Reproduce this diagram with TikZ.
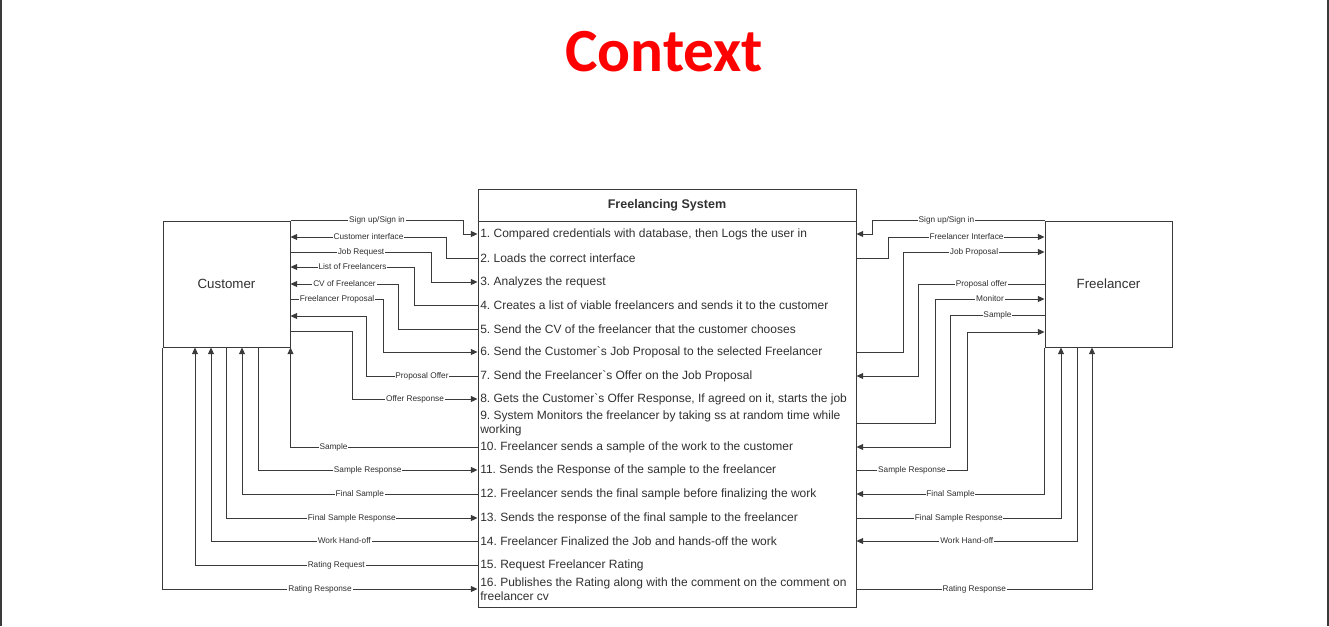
\documentclass[tikz,border=0pt]{standalone}
\usepackage{fontspec}
\setmainfont{Liberation Sans}
\newfontfamily\titlefont{Carlito}
\usetikzlibrary{arrows.meta, positioning, calc}
\definecolor{ctxred}{HTML}{FF0000}
\definecolor{ctxline}{HTML}{3A3A3A}
\definecolor{ctxtext}{HTML}{303030}
\tikzset{
  actor/.style  = {draw=ctxline, line width=0.75pt, minimum width=95.25pt,
                   minimum height=94.5pt, inner sep=0pt, text=ctxtext,
                   font=\fontsize{10}{12}\selectfont},
  sysbox/.style = {draw=ctxline, line width=0.75pt, minimum width=283.5pt,
                   minimum height=313.5pt, inner sep=0pt},
  row/.style    = {anchor=west, align=left, inner sep=1.5pt, text=ctxtext,
                   font=\fontsize{9}{10.5}\selectfont},
  lab/.style    = {fill=white, inner sep=0.6pt, text=ctxtext,
                   font=\fontsize{6.2}{7}\selectfont},
  flow/.style   = {-{Triangle[length=5pt, width=4.5pt]}, line width=0.75pt, draw=ctxline},
  wire/.style   = {line width=0.75pt, draw=ctxline},
}
\frenchspacing

\begin{document}
\begin{tikzpicture}[x=0.75pt, y=-0.75pt]
    \useasboundingbox (0,0) rectangle (1329,626);
    \draw[line width=1.5pt, ctxline] (1,0) -- (1,626);
    \draw[line width=1.5pt, ctxline] (1328,0) -- (1328,626);

    \node[font=\titlefont\bfseries\fontsize{46}{54}\selectfont, text=ctxred] (title) at (664,52) {Context};

    \node[sysbox]                   (sys)        at (667,398) {};
    \node[actor]                    (customer)   at (226.5,284) {Customer};
    \node[actor]                    (freelancer) at (1108.5,284) {Freelancer};
    \node[font=\bfseries\fontsize{9.4}{11}\selectfont, text=ctxtext] (head) at (667,205) {Freelancing System};
    \draw[wire] (sys.west |- 0,221) -- (sys.east |- 0,221);

    \node[row] (r1)  at (478,234) {1. Compared credentials with database, then Logs the user in};
    \node[row] (r2)  at (478,258) {2. Loads the correct interface};
    \node[row] (r3)  at (478,282) {3. Analyzes the request};
    \node[row] (r4)  at (478,305) {4. Creates a list of viable freelancers and sends it to the customer};
    \node[row] (r5)  at (478,329) {5. Send the CV of the freelancer that the customer chooses};
    \node[row] (r6)  at (478,352) {6. Send the Customer\textasciigrave s Job Proposal to the selected Freelancer};
    \node[row] (r7)  at (478,376) {7. Send the Freelancer\textasciigrave s Offer on the Job Proposal};
    \node[row] (r8)  at (478,399) {8. Gets the Customer\textasciigrave s Offer Response, If agreed on it, starts the job};
    \node[row] (r9)  at (478,423) {9. System Monitors the freelancer by taking ss at random time while\\working};
    \node[row] (r10) at (478,447) {10. Freelancer sends a sample of the work to the customer};
    \node[row] (r11) at (478,470) {11. Sends the Response of the sample to the freelancer};
    \node[row] (r12) at (478,494) {12. Freelancer sends the final sample before finalizing the work};
    \node[row] (r13) at (478,518) {13. Sends the response of the final sample to the freelancer};
    \node[row] (r14) at (478,541) {14. Freelancer Finalized the Job and hands-off the work};
    \node[row] (r15) at (478,565) {15. Request Freelancer Rating};
    \node[row] (r16) at (478,589) {16. Publishes the Rating along with the comment on the comment on\\freelancer cv};

    % customer side
    \draw[flow] (customer.north east) -- node[lab]{Sign up/Sign in} ++(173,0) |- (sys.west |- r1);
    \draw[flow] (sys.west |- r2) -- ++(-31,0) |- node[lab, pos=.75]{Customer interface} (customer.east |- 0,237);
    \draw[flow] (customer.east |- 0,252) -- node[lab]{Job Request} ++(141,0) |- (sys.west |- r3);
    \draw[flow] (sys.west |- r4) -- ++(-63,0) |- node[lab, pos=.75]{List of Freelancers} (customer.east |- 0,267);
    \draw[flow] (sys.west |- r5) -- ++(-79,0) |- node[lab, pos=.75]{CV of Freelancer} (customer.east |- 0,284);
    \draw[flow] (customer.east |- 0,299) -- node[lab]{Freelancer Proposal} ++(93,0) |- (sys.west |- r6);
    \draw[flow] (sys.west |- r7) -- node[lab]{Proposal Offer} ++(-111,0) |- (customer.east |- 0,316);
    \draw[flow] (customer.east |- 0,331) -- ++(62,0) |- node[lab, pos=.75]{Offer Response} (sys.west |- r8);
    \draw[flow] (sys.west |- r10) -| node[lab, pos=.385]{Sample} (customer.south east);
    \draw[flow] (customer.south -| 258,0) |- node[lab, pos=.75]{Sample Response} (sys.west |- r11);
    \draw[flow] (sys.west |- r12) -| node[lab, pos=.25]{Final Sample} (customer.south -| 242,0);
    \draw[flow] (customer.south -| 226,0) |- node[lab, pos=.75]{Final Sample Response} (sys.west |- r13);
    \draw[flow] (sys.west |- r14) -| node[lab, pos=.25]{Work Hand-off} (customer.south -| 211,0);
    \draw[flow] (sys.west |- r15) -| node[lab, pos=.25]{Rating Request} (customer.south -| 195,0);
    \draw[flow] (customer.south west) |- node[lab, pos=.75]{Rating Response} (sys.west |- r16);

    % freelancer side
    \draw[flow] (freelancer.north west) -- node[lab, pos=.57]{Sign up/Sign in} ++(-172,0) |- (sys.east |- r1);
    \draw[flow] (sys.east |- r2) -- ++(32,0) |- node[lab, pos=.75]{Freelancer Interface} (freelancer.west |- 0,237);
    \draw[flow] (sys.east |- r6) -- ++(47,0) |- node[lab, pos=.75]{Job Proposal} (freelancer.west |- 0,252);
    \draw[flow] (freelancer.west |- 0,284) -- node[lab]{Proposal offer} ++(-126,0) |- (sys.east |- r7);
    \draw[flow] (sys.east |- r9) -- ++(79,0) |- node[lab, pos=.75]{Monitor} (freelancer.west |- 0,299);
    \draw[flow] (freelancer.west |- 0,315) -- node[lab]{Sample} ++(-94,0) |- (sys.east |- r10);
    \draw[flow] (sys.east |- r11) -- node[lab]{Sample Response} ++(111,0) |- (freelancer.west |- 0,332);
    \draw[flow] (freelancer.south west) |- node[lab, pos=.75]{Final Sample} (sys.east |- r12);
    \draw[flow] (sys.east |- r13) -| node[lab, pos=.25]{Final Sample Response} (freelancer.south -| 1061,0);
    \draw[flow] (freelancer.south -| 1077,0) |- node[lab, pos=.75]{Work Hand-off} (sys.east |- r14);
    \draw[flow] (sys.east |- r16) -| node[lab, pos=.25]{Rating Response} (freelancer.south -| 1092,0);
\end{tikzpicture}
\end{document}
